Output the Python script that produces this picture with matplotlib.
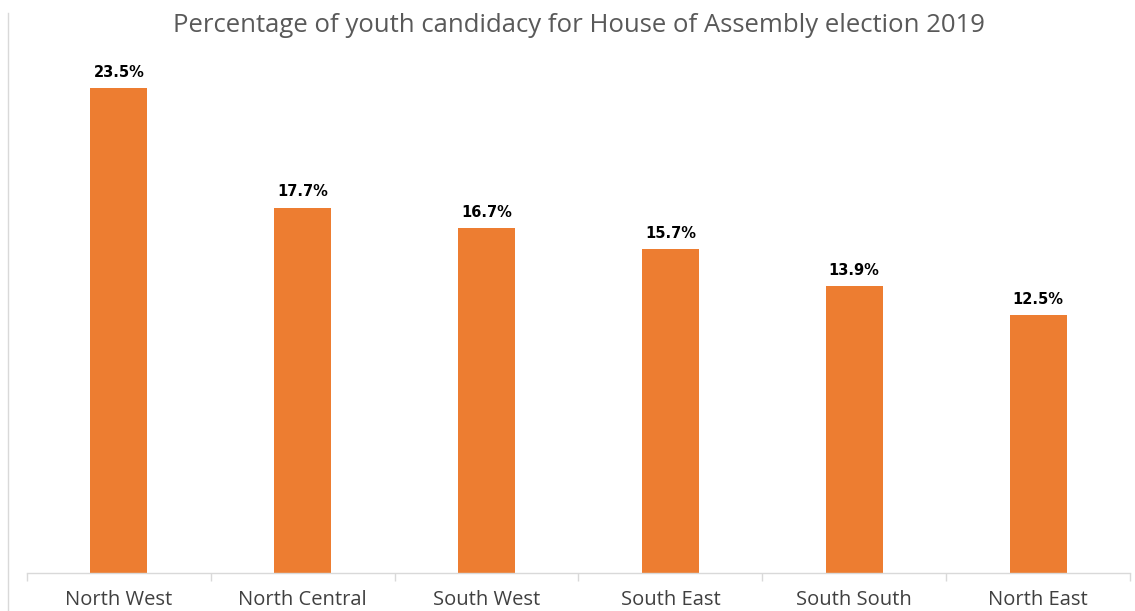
import matplotlib.pyplot as plt
from matplotlib.lines import Line2D
import numpy as np

regions = ['North West', 'North Central', 'South West', 'South East', 'South South', 'North East']
values = [23.5, 17.7, 16.7, 15.7, 13.9, 12.5]

plt.rcParams['font.family'] = ['Open Sans', 'DejaVu Sans']

fig = plt.figure(figsize=(11.35, 6.11), dpi=100)
ax = fig.add_axes([27/1135, 1-573/611, (1130-27)/1135, (573-57)/611])

x = np.arange(len(regions))
bars = ax.bar(x, values, width=0.31, color='#ED7D31')
# data labels use a wide bold face
for b, v in zip(bars, values):
    ax.text(b.get_x() + b.get_width()/2, v + 0.4, '%.1f%%' % v,
            ha='center', va='bottom', fontsize=10.5, fontweight='bold',
            color='black', family='DejaVu Sans')

ax.set_xlim(-0.5, len(regions) - 0.5)
ax.set_ylim(0, 25)
ax.set_yticks([])
for s in ['top', 'right', 'left']:
    ax.spines[s].set_visible(False)
ax.spines['bottom'].set_color('#D9D9D9')
ax.spines['bottom'].set_linewidth(1)

# category labels, tick marks between categories
ax.set_xticks(np.arange(-0.5, len(regions)), minor=False)
ax.set_xticklabels([])
ax.tick_params(axis='x', which='major', length=6, color='#D9D9D9', width=1)
ax.set_xticks(x, minor=True)
ax.set_xticklabels(regions, minor=True, fontsize=14.5, color='#404040')
ax.tick_params(axis='x', which='minor', length=0, pad=12)

fig.text(579/1135, 1-25/611, 'Percentage of youth candidacy for House of Assembly election 2019',
         ha='center', va='center', fontsize=18.5, color='#595959')

fig.add_artist(Line2D([8/1135, 8/1135], [0, 1-13/611], transform=fig.transFigure,
                      color='#D9D9D9', linewidth=1))

fig.savefig('out.png', dpi=100)
